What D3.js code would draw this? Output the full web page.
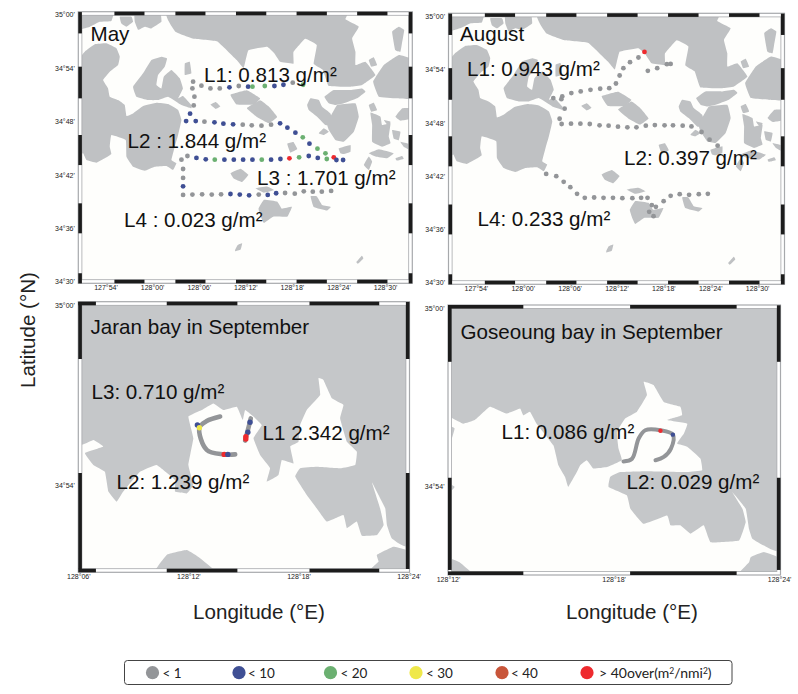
<!DOCTYPE html>
<html><head><meta charset="utf-8">
<script src="https://cdn.jsdelivr.net/npm/d3@7/dist/d3.min.js"></script>
<style>html,body{margin:0;padding:0;background:#fff}svg{display:block}text{font-family:"Liberation Sans",Arial,sans-serif}</style>
</head><body><svg id="c" width="798" height="694"></svg>
<script>
// All map coordinates: [minutes of longitude east of 128°00', minutes of latitude north of 34°30']
const binLabels=["< 1","< 10","< 20","< 30","< 40"];
const binColors=["#939598","#3f4f94","#6bb071","#efe84a","#c8553a","#ee2a2e"];

const landSea=[
[[2.06,30.4],[3.0,28.1],[5.4,27.3],[8.4,27.0],[10.9,24.9],[11.8,24.0],[12.4,26.0],[14.8,26.4],[15.7,25.7],[16.5,24.7],[18.2,24.5],[18.2,25.8],[19.7,27.3],[21.2,26.6],[20.8,24.5],[22.0,23.8],[22.75,21.99],[25.54,21.91],[27.04,22.10],[28.76,23.22],[27.47,24.72],[26.18,24.34],[26.18,25.84],[25.75,27.34],[26.61,28.65],[24.89,29.48],[24.67,30.4]],
[[-9.6,24.53],[-8.67,25.84],[-7.38,26.67],[-5.88,26.78],[-4.59,26.22],[-4.16,25.28],[-4.38,24.34],[-5.45,23.60],[-6.31,22.66],[-5.67,21.72],[-5.45,20.79],[-4.38,20.41],[-3.52,19.85],[-3.30,18.61],[-2.45,18.91],[-1.16,19.74],[0.56,20.11],[2.06,19.96],[3.35,19.29],[3.78,18.16],[3.35,16.48],[2.92,15.17],[2.49,13.67],[3.13,13.30],[2.70,12.55],[1.85,13.0],[0.34,12.92],[-0.94,12.47],[-2.45,12.92],[-3.30,14.04],[-3.39,15.92],[-5.24,16.48],[-5.45,15.17],[-5.24,14.34],[-6.09,13.86],[-7.17,13.37],[-8.45,13.67],[-8.88,14.42],[-9.6,14.42]],
[[-2.45,21.91],[-1.16,23.41],[-0.09,24.91],[1.2,25.28],[1.93,25.09],[1.63,24.16],[0.77,23.22],[0.56,22.10],[1.20,21.72],[1.50,23.03],[2.49,23.78],[3.56,22.85],[3.97,21.72],[3.35,20.60],[3.99,20.86],[5.06,19.85],[5.06,19.48],[3.78,19.85],[2.06,20.79],[0.77,20.41],[-0.52,20.41],[-2.02,20.79]],
[[10.1,21.0],[12.2,21.5],[13.9,20.6],[13.1,19.9],[10.9,19.9]],
[[12.2,19.5],[13.9,20.4],[15.0,19.7],[16.1,18.5],[15.0,17.8],[13.5,18.5]],
[[7.5,19.9],[8.2,20.2],[8.8,19.7],[8.2,19.4]],
[[22.19,20.79],[23.39,21.54],[25.54,21.54],[27.04,21.72],[27.47,21.35],[26.39,20.6],[24.68,20.04],[23.6,19.85],[22.75,20.04]],
[[19.96,19.85],[20.39,20.6],[21.46,20.41],[21.89,19.66],[22.96,18.91],[23.39,17.6],[22.32,17.6],[21.24,18.54],[20.17,19.29]],
[[22.53,17.79],[23.82,19.85],[26.18,20.04],[26.61,18.54],[25.97,16.85],[24.68,15.73],[23.6,15.92],[22.75,17.04]],
[[21.46,16.67],[22.1,17.23],[22.75,16.85],[22.1,16.48]],
[[28.46,22.47],[29.83,24.34],[31.76,25.47],[33.6,24.9],[33.6,20.6],[31.44,20.6],[29.18,20.79]],
[[30.9,28.09],[31.76,28.65],[32.46,28.28],[32.17,26.78],[31.97,25.84],[31.3,26.03]],
[[27.9,24.9],[28.54,25.21],[28.97,24.34],[28.2,24.16]],
[[27.9,19.85],[28.54,20.11],[28.97,19.29],[28.2,19.1]],
[[28.11,19.0],[29.4,18.54],[29.61,17.6],[30.69,17.79],[30.47,16.3],[30.69,15.55],[29.61,15.17],[28.33,15.73],[28.33,17.6]],
[[29.83,18.16],[30.69,17.98],[30.47,17.42]],
[[31.33,18.54],[32.2,19.48],[33.6,19.48],[33.6,18.35],[32,18.09]],
[[30.9,17.04],[31.97,16.85],[31.76,15.9],[31.1,16.1]],
[[31.97,15.73],[33.6,15.36],[33.6,14.6],[32.4,15.17]],
[[27.9,14.42],[29.2,14.87],[31.1,14.42],[30.25,13.86],[28.76,14.05]],
[[31.33,13.86],[32.2,14.12],[32.4,13.78],[31.5,13.6]],
[[27.26,13.1],[27.9,14.05],[28.33,13.48],[27.9,12.55]],
[[24.03,14.98],[25.54,15.36],[25.54,14.6],[24.68,14.34],[24.25,14.42]],
[[17.4,15.5],[18.2,15.7],[18.7,14.9],[17.8,14.5]],
[[10.1,12.2],[11.4,12.7],[12.4,12.0],[11.6,11.2],[10.5,11.6]],
[[13.3,10.5],[14.8,10.7],[15.7,10.3],[14.4,10.0]],
[[13.7,8.2],[14.4,9.2],[16.1,9.0],[16.7,8.2],[18.0,8.4],[17.4,7.3],[15.6,7.3],[14.4,6.6],[14,7.3]],
[[20.4,9.6],[21.2,9.6],[21.9,8.6],[23,8.4],[22.5,8.0],[20.8,8.4]],
[[10.7,3.6],[11,4.1],[11.6,4.3],[11.4,3.6],[10.7,3.4]],
[[26.3,2.2],[27,2.9],[27.2,2.6],[26.5,2.0]],
[[-9.6,30.4],[-5.0,30.4],[-5.24,29.3],[-6.74,29.2],[-8.0,28.65],[-9.6,28.3]],
[[-4.16,29.78],[-2.66,29.78],[-2.45,29.2],[-3.3,28.65],[-3.95,29.0]],
[[-2.23,30.4],[0.99,30.4],[1.2,29.2],[-0.09,28.46],[-0.94,28.65],[-1.8,28.3],[-2.23,29.2]],
[[4.21,24.53],[4.85,24.72],[5.06,23.41],[4.21,23.22]]
];

const landJaran=[
[[5.9,30.1],[24.1,30.1],[24.1,22.06],[23.09,22.22],[22.82,22.67],[22.73,23.22],[22.36,23.67],[22.0,24.09],[22.45,23.22],[22.64,22.67],[22.27,22.33],[21.45,22.31],[21.18,22.78],[20.64,22.56],[20.45,23.0],[19.55,22.78],[19.0,23.22],[18.45,23.67],[17.82,24.28],[18.09,24.56],[19.0,24.61],[20.27,24.56],[21.09,24.67],[21.18,25.11],[20.64,25.44],[20.27,26.22],[20.45,26.67],[19.82,26.89],[19.36,27.5],[19.09,27.56],[19.18,27.0],[18.45,26.5],[18.09,26.0],[18.0,25.44],[17.55,25.28],[17.73,24.72],[17.09,24.83],[16.91,24.33],[16.27,24.11],[16.45,24.56],[15.91,25.0],[15.55,25.56],[16.0,26.0],[15.45,26.33],[15.09,26.5],[14.96,26.17],[14.64,26.61],[13.91,26.5],[13.36,26.72],[12.73,26.5],[12.0,26.28],[12.27,25.56],[12.0,24.67],[12.27,24.0],[11.91,23.72],[11.27,23.78],[11.27,24.17],[10.27,24.67],[9.36,24.44],[8.45,23.78],[8.09,23.44],[7.64,23.78],[7.45,24.44],[6.82,24.67],[6.36,25.06],[7.36,25.28],[6.82,25.5],[5.9,25.39]],
[[10.09,21.0],[10.82,21.67],[11.91,21.83],[12.64,21.56],[13.64,21.0]],
[[21.64,21.0],[22.36,21.44],[22.27,21.67],[23.18,21.94],[24.1,21.78],[24.1,21.0]]
];

const landGoseoung=[
[[11.9,30.1],[24.1,30.1],[24.1,21.97],[23.45,22.02],[23.03,22.25],[22.91,22.58],[22.79,23.26],[22.30,23.82],[22.67,23.26],[22.79,22.81],[22.55,22.19],[21.52,22.13],[21.27,22.70],[20.79,22.42],[20.42,22.70],[20.06,22.70],[19.94,23.03],[19.09,22.75],[18.61,23.26],[18.48,23.71],[17.82,23.99],[17.88,24.33],[18.24,24.49],[19.21,24.52],[20.67,24.49],[21.21,24.55],[21.15,24.94],[20.67,25.34],[20.30,25.45],[20.55,25.79],[20.67,26.12],[19.94,26.24],[20.48,26.40],[20.42,26.69],[19.82,26.85],[19.45,27.42],[19.09,27.53],[19.21,27.08],[18.85,26.52],[18.42,26.29],[18.12,25.84],[18.18,25.28],[18.30,24.89],[17.76,24.66],[17.27,24.61],[17.03,24.89],[16.79,24.72],[16.67,24.49],[16.36,23.99],[16.24,24.33],[16.0,24.72],[15.82,25.39],[15.21,26.12],[14.97,26.52],[14.73,26.40],[14.61,26.63],[14.12,26.46],[13.52,26.69],[12.97,26.24],[12.55,26.12],[12.06,26.35],[11.9,26.35]],
[[11.9,26.07],[12.24,25.96],[12.06,25.39],[11.9,25.34]],
[[11.9,24.16],[12.24,23.99],[11.9,23.65]],
[[11.9,21.63],[12.42,21.46],[12.97,21.0],[11.9,21.0]],
[[22.48,21.0],[22.91,21.46],[22.97,21.63],[23.45,21.8],[24.1,21.57],[24.1,21.0]]
];

// stations: [lon, lat, density bin]
const stationsMay=[
[5.28,22.47,0],[5.19,21.72,0],[6.35,22.02,0],[7.51,21.72,0],[8.71,21.72,0],[9.96,21.84,1],[11.16,21.99,0],[12.36,21.91,1],[12.92,21.91,2],[14.51,21.99,2],[15.75,21.99,1],[16.91,22.13,1],[18.11,22.36,0],[19.44,22.13,2],
[5.45,20.79,0],[5.36,19.81,0],[4.89,18.88,1],
[4.38,18.05,1],[5.62,18.05,1],[6.74,17.98,0],[8.03,17.90,1],[9.18,17.75,1],[10.43,17.68,1],[11.67,17.64,0],[12.83,17.57,0],[14.08,17.53,0],[15.32,17.64,0],[16.48,17.79,1],[17.42,17.30,1],[18.45,16.74,1],[19.40,16.22,2],[20.26,15.51,1],[21.29,14.94,2],[22.32,14.42,2],[22.49,13.78,2],[23.39,13.97,5],[23.73,13.67,1],[24.59,13.67,1],
[3.78,13.71,0],[4.55,14.12,0],[5.71,13.90,1],[6.91,13.75,1],[8.07,13.71,2],[9.31,13.71,1],[10.52,13.71,1],[11.72,13.71,1],[12.92,13.71,1],[14.12,13.71,2],[15.32,13.71,1],[16.52,13.78,1],[17.68,13.86,5],[18.93,13.97,2],[20.17,14.12,1],[21.33,13.90,1],
[3.99,12.66,0],[3.99,11.65,0],[3.99,10.71,1],[3.99,9.74,0],
[5.19,9.78,0],[6.44,9.81,0],[7.68,9.78,0],[8.88,9.81,0],[10.09,9.85,1],[11.29,9.78,1],[12.49,9.70,1],[13.73,9.78,0],[14.89,9.74,1],[15.97,9.93,1],[17.12,9.96,0],[18.37,9.89,0],[19.53,10.15,0],[20.69,10.11,0],[21.85,10.11,0],[23.05,10.19,0]
];
const stationsAugust=[
[3.91,20.79,0],[5.06,20.97,0],[4.94,20.67,0],[6.22,21.35,0],[7.42,21.54,0],[8.67,21.72,0],[9.91,21.84,0],[11.07,21.91,0],[11.93,22.43,0],[12.40,23.33,0],[12.88,24.16,0],[13.73,24.83,0],[14.81,25.36,0],[15.58,25.99,5],[16.01,23.86,0],[17.21,24.16,0],[18.45,24.61,0],[18.93,24.64,0],[5.36,19.59,0],
[4.72,18.46,0],[4.98,17.87,0],[6.18,17.90,0],[7.38,17.90,0],[8.58,17.87,0],[9.83,17.72,0],[10.99,17.68,0],[12.19,17.57,0],[13.39,17.49,0],[14.55,17.49,0],[15.75,17.68,0],[16.91,17.75,0],[18.15,17.72,0],[19.23,17.72,0],[20.47,17.68,0],[21.59,17.60,0],[22.88,16.97,0],[23.91,16.10,0],[24.94,15.43,0],
[3.0,12.25,0],[4.29,11.99,0],[5.24,11.35,0],[6.09,10.75,0],[6.95,10.0,0],[7.94,9.55,0],[9.14,9.59,0],[10.34,9.55,0],[11.55,9.55,0],[12.75,9.51,0],[14.03,9.51,0],[15.15,9.55,0],[15.97,9.55,0],[16.52,8.73,0],[17.04,8.54,0],[18.03,9.18,0],[18.93,9.78,0],[20.09,9.96,0],[21.29,9.89,0],[22.53,9.96,0],[23.69,10.0,0],[16.18,7.98,0],[16.74,7.49,0]
];
// continuous transect tracks and the stations that stand out on them
const tracksJaran=[
[[13.73,26.28],[13.0,26.13],[12.6,25.91],[13.0,25.17],[13.91,25.02],[14.55,25.02]],
[[15.4,26.22],[15.24,25.83],[15.09,25.48]]
];
const stationsJaran=[[12.49,26.0,1],[12.6,25.91,3],[13.95,25.02,5],[14.15,25.02,1],[15.36,26.09,1],[15.24,25.76,1],[15.13,25.61,5],[15.13,25.53,5]];
const tracksGoseoung=[
[[18.36,24.85],[18.67,24.94],[18.91,25.62],[19.15,25.90],[19.70,25.90],[20.15,25.75],[20.08,25.28],[19.82,25.0],[19.52,24.89]]
];
const stationsGoseoung=[[19.70,25.88,5],[20.15,25.75,1]];

// tick bars along the frame [from,to]
const barsLonWide=[[-4.85,-0.98],[3.0,6.87],[10.8,14.7],[18.6,22.5],[26.4,30.3]];
const barsLatWide=[[30.3,27.9],[24.16,20.6],[16.48,13.1],[8.8,5.43],[0.94,-0.2]];
const barsLonJaran=[[6,6.96],[10.82,14.67],[18.6,22.4]];
const barsLatJaran=[[30.1,28.2],[24.4,21.2]];
const barsLonGoseoung=[[12,14.73],[18.6,22.46]];
const barsLatGoseoung=[[30.1,28.2],[24.3,21.2]];

const lonTicksWide=[-6,0,6,12,18,24,30];
const latTicksWide=[30,24,18,12,6,0];
const lonTicksJaran=[6,12,18,24];
const lonTicksGoseoung=[12,18,24];
const latTicksBay=[30,24];

const notesMay=[["May",90.5,40.5],["L1: 0.813 g/m²",204,81.5],["L2 : 1.844 g/m²",127.5,147.5],["L3 : 1.701 g/m²",257,184.5],["L4 : 0.023 g/m²",124,226.5]];
const notesAugust=[["August",460,40.5],["L1: 0.943 g/m²",467,75.5],["L2: 0.397 g/m²",624,165],["L4: 0.233 g/m²",477.5,225.5]];
const notesJaran=[["Jaran bay in September",90.5,334],["L3: 0.710 g/m²",91.5,398.5],["L1 2.342 g/m²",262.5,440],["L2: 1.239 g/m²",116.5,488.5]];
const notesGoseoung=[["Goseoung bay in September",460.5,338.5],["L1: 0.086 g/m²",501.5,438.5],["L2: 0.029 g/m²",626.5,488.5]];

const panels=[
{land:landSea,stations:stationsMay,tracks:[],notes:notesMay,lonD:[-9.5,33.5],latD:[30.34,-0.19],xR:[78.3,412.3],yR:[11.7,283.3],barsLon:barsLonWide,barsLat:barsLatWide,lonT:lonTicksWide,latT:latTicksWide,r:2.4,fill:"#bfc1c3"},
{land:landSea,stations:stationsAugust,tracks:[],notes:notesAugust,lonD:[-9.5,33.5],latD:[30.34,-0.19],xR:[448.5,784.5],yR:[13.3,284.3],barsLon:barsLonWide,barsLat:barsLatWide,lonT:lonTicksWide,latT:latTicksWide,r:2.4,fill:"#bfc1c3"},
{land:landJaran,stations:stationsJaran,tracks:tracksJaran,notes:notesJaran,lonD:[6,24.05],latD:[30.11,21.09],xR:[78.3,409.5],yR:[301.7,572.3],barsLon:barsLonJaran,barsLat:barsLatJaran,lonT:lonTicksJaran,latT:latTicksBay,r:2.7,fill:"#c5c7c9",tw:4.6},
{land:landGoseoung,stations:stationsGoseoung,tracks:tracksGoseoung,notes:notesGoseoung,lonD:[12,24.05],latD:[30.11,21.03],xR:[448,780.5],yR:[305,575],barsLon:barsLonGoseoung,barsLat:barsLatGoseoung,lonT:lonTicksGoseoung,latT:latTicksBay,r:2.2,fill:"#c5c7c9",tw:4}
];

const svg=d3.select("#c");
const latFmt=m=>{const t=34*60+30+m,d=Math.floor(t/60),n=t-d*60;return d+"°"+String(n).padStart(2,"0")+"'"};
const lonFmt=m=>{const t=128*60+m,d=Math.floor(t/60),n=t-d*60;return d+"°"+String(n).padStart(2,"0")+"'"};

panels.forEach((p,i)=>{
  const x=d3.scaleLinear().domain(p.lonD).range(p.xR);
  const y=d3.scaleLinear().domain(p.latD).range(p.yR);
  const g=svg.append("g");
  const inset=3.6;
  const clipId="clip"+i;
  g.append("clipPath").attr("id",clipId).append("rect")
    .attr("x",p.xR[0]+inset).attr("y",p.yR[0]+inset)
    .attr("width",p.xR[1]-p.xR[0]-2*inset).attr("height",p.yR[1]-p.yR[0]-2*inset);
  const body=g.append("g").attr("clip-path","url(#"+clipId+")");
  body.append("rect").attr("x",p.xR[0]).attr("y",p.yR[0]).attr("width",p.xR[1]-p.xR[0]).attr("height",p.yR[1]-p.yR[0]).attr("fill","#fefefc");
  const path=d3.line().x(d=>x(d[0])).y(d=>y(d[1])).curve(d3.curveCardinalClosed.tension(.75));
  body.selectAll("path.land").data(p.land).join("path").attr("class","land").attr("d",path).attr("fill",p.fill);
  const tr=d3.line().x(d=>x(d[0])).y(d=>y(d[1])).curve(d3.curveCatmullRom.alpha(.5));
  body.selectAll("path.track").data(p.tracks).join("path").attr("class","track").attr("d",tr)
    .attr("fill","none").attr("stroke","#939598").attr("stroke-width",p.tw||4).attr("stroke-linecap","round").attr("stroke-linejoin","round");
  body.selectAll("circle").data(p.stations).join("circle")
    .attr("cx",d=>x(d[0])).attr("cy",d=>y(d[1])).attr("r",p.r).attr("fill",d=>binColors[d[2]]);
  // frame
  g.append("rect").attr("x",p.xR[0]).attr("y",p.yR[0]).attr("width",p.xR[1]-p.xR[0]).attr("height",p.yR[1]-p.yR[0]).attr("fill","none").attr("stroke","#a7a9ac").attr("stroke-width",1.2);
  g.append("rect").attr("x",p.xR[0]+inset).attr("y",p.yR[0]+inset).attr("width",p.xR[1]-p.xR[0]-2*inset).attr("height",p.yR[1]-p.yR[0]-2*inset).attr("fill","none").attr("stroke","#a7a9ac").attr("stroke-width",.8);
  const t0=p.yR[0],b0=p.yR[1]-inset,l0=p.xR[0],r0=p.xR[1]-inset;
  [t0,b0].forEach(yy=>g.selectAll(null).data(p.barsLon).join("rect")
    .attr("x",d=>x(d[0])).attr("width",d=>x(d[1])-x(d[0])).attr("y",yy).attr("height",inset).attr("fill","#1c1c1c"));
  [l0,r0].forEach(xx=>g.selectAll(null).data(p.barsLat).join("rect")
    .attr("y",d=>y(d[0])).attr("height",d=>y(d[1])-y(d[0])).attr("x",xx).attr("width",inset).attr("fill","#1c1c1c"));
  // axes
  const ax=g.append("g").attr("transform","translate(0,"+p.yR[1]+")").call(d3.axisBottom(x).tickValues(p.lonT).tickFormat(lonFmt).tickSize(0).tickPadding(2));
  const ay=g.append("g").attr("transform","translate("+p.xR[0]+",0)").call(d3.axisLeft(y).tickValues(p.latT).tickFormat(latFmt).tickSize(0).tickPadding(3.5));
  [ax,ay].forEach(a=>{a.select(".domain").remove();a.selectAll("text").attr("font-size",7).attr("fill","#222").attr("font-family","Liberation Sans")});
  // annotations
  g.selectAll("text.note").data(p.notes).join("text").attr("class","note")
    .attr("x",d=>d[1]).attr("y",d=>d[2]).attr("font-size",20.6).attr("fill","#111").text(d=>d[0]);
});

// axis titles
svg.append("text").attr("transform","translate(34.5,330) rotate(-90)").attr("text-anchor","middle").attr("font-size",20.6).attr("fill","#222").text("Latitude (°N)");
[[259,"Longitude (°E)"],[632,"Longitude (°E)"]].forEach(d=>svg.append("text").attr("x",d[0]).attr("y",619).attr("text-anchor","middle").attr("font-size",20.6).attr("fill","#222").text(d[1]));

// legend
const lg=svg.append("g");
lg.append("rect").attr("x",124.5).attr("y",660.5).attr("width",607.5).attr("height",24).attr("rx",3).attr("fill","#fff").attr("stroke","#444").attr("stroke-width",1);
const lgX=[152.5,239,330.5,416,502,587];
const lgTx=[162.5,248,340.5,426,511,599];
lgX.forEach((xx,i)=>{
  lg.append("circle").attr("cx",xx).attr("cy",672.7).attr("r",6.6).attr("fill",binColors[i]);
  const t=lg.append("text").attr("x",lgTx[i]).attr("y",677.5).attr("font-size",i<5?13.5:14).attr("fill","#222").style("font-family","Lato");
  if(i<5)t.text(binLabels[i]);
  else{t.append("tspan").text("> 40over(m");t.append("tspan").attr("dy",-4).attr("font-size",8.5).text("2");t.append("tspan").attr("dy",4).text("/nmi");t.append("tspan").attr("dy",-4).attr("font-size",8.5).text("2");t.append("tspan").attr("dy",4).text(")");}
});
</script></body></html>
